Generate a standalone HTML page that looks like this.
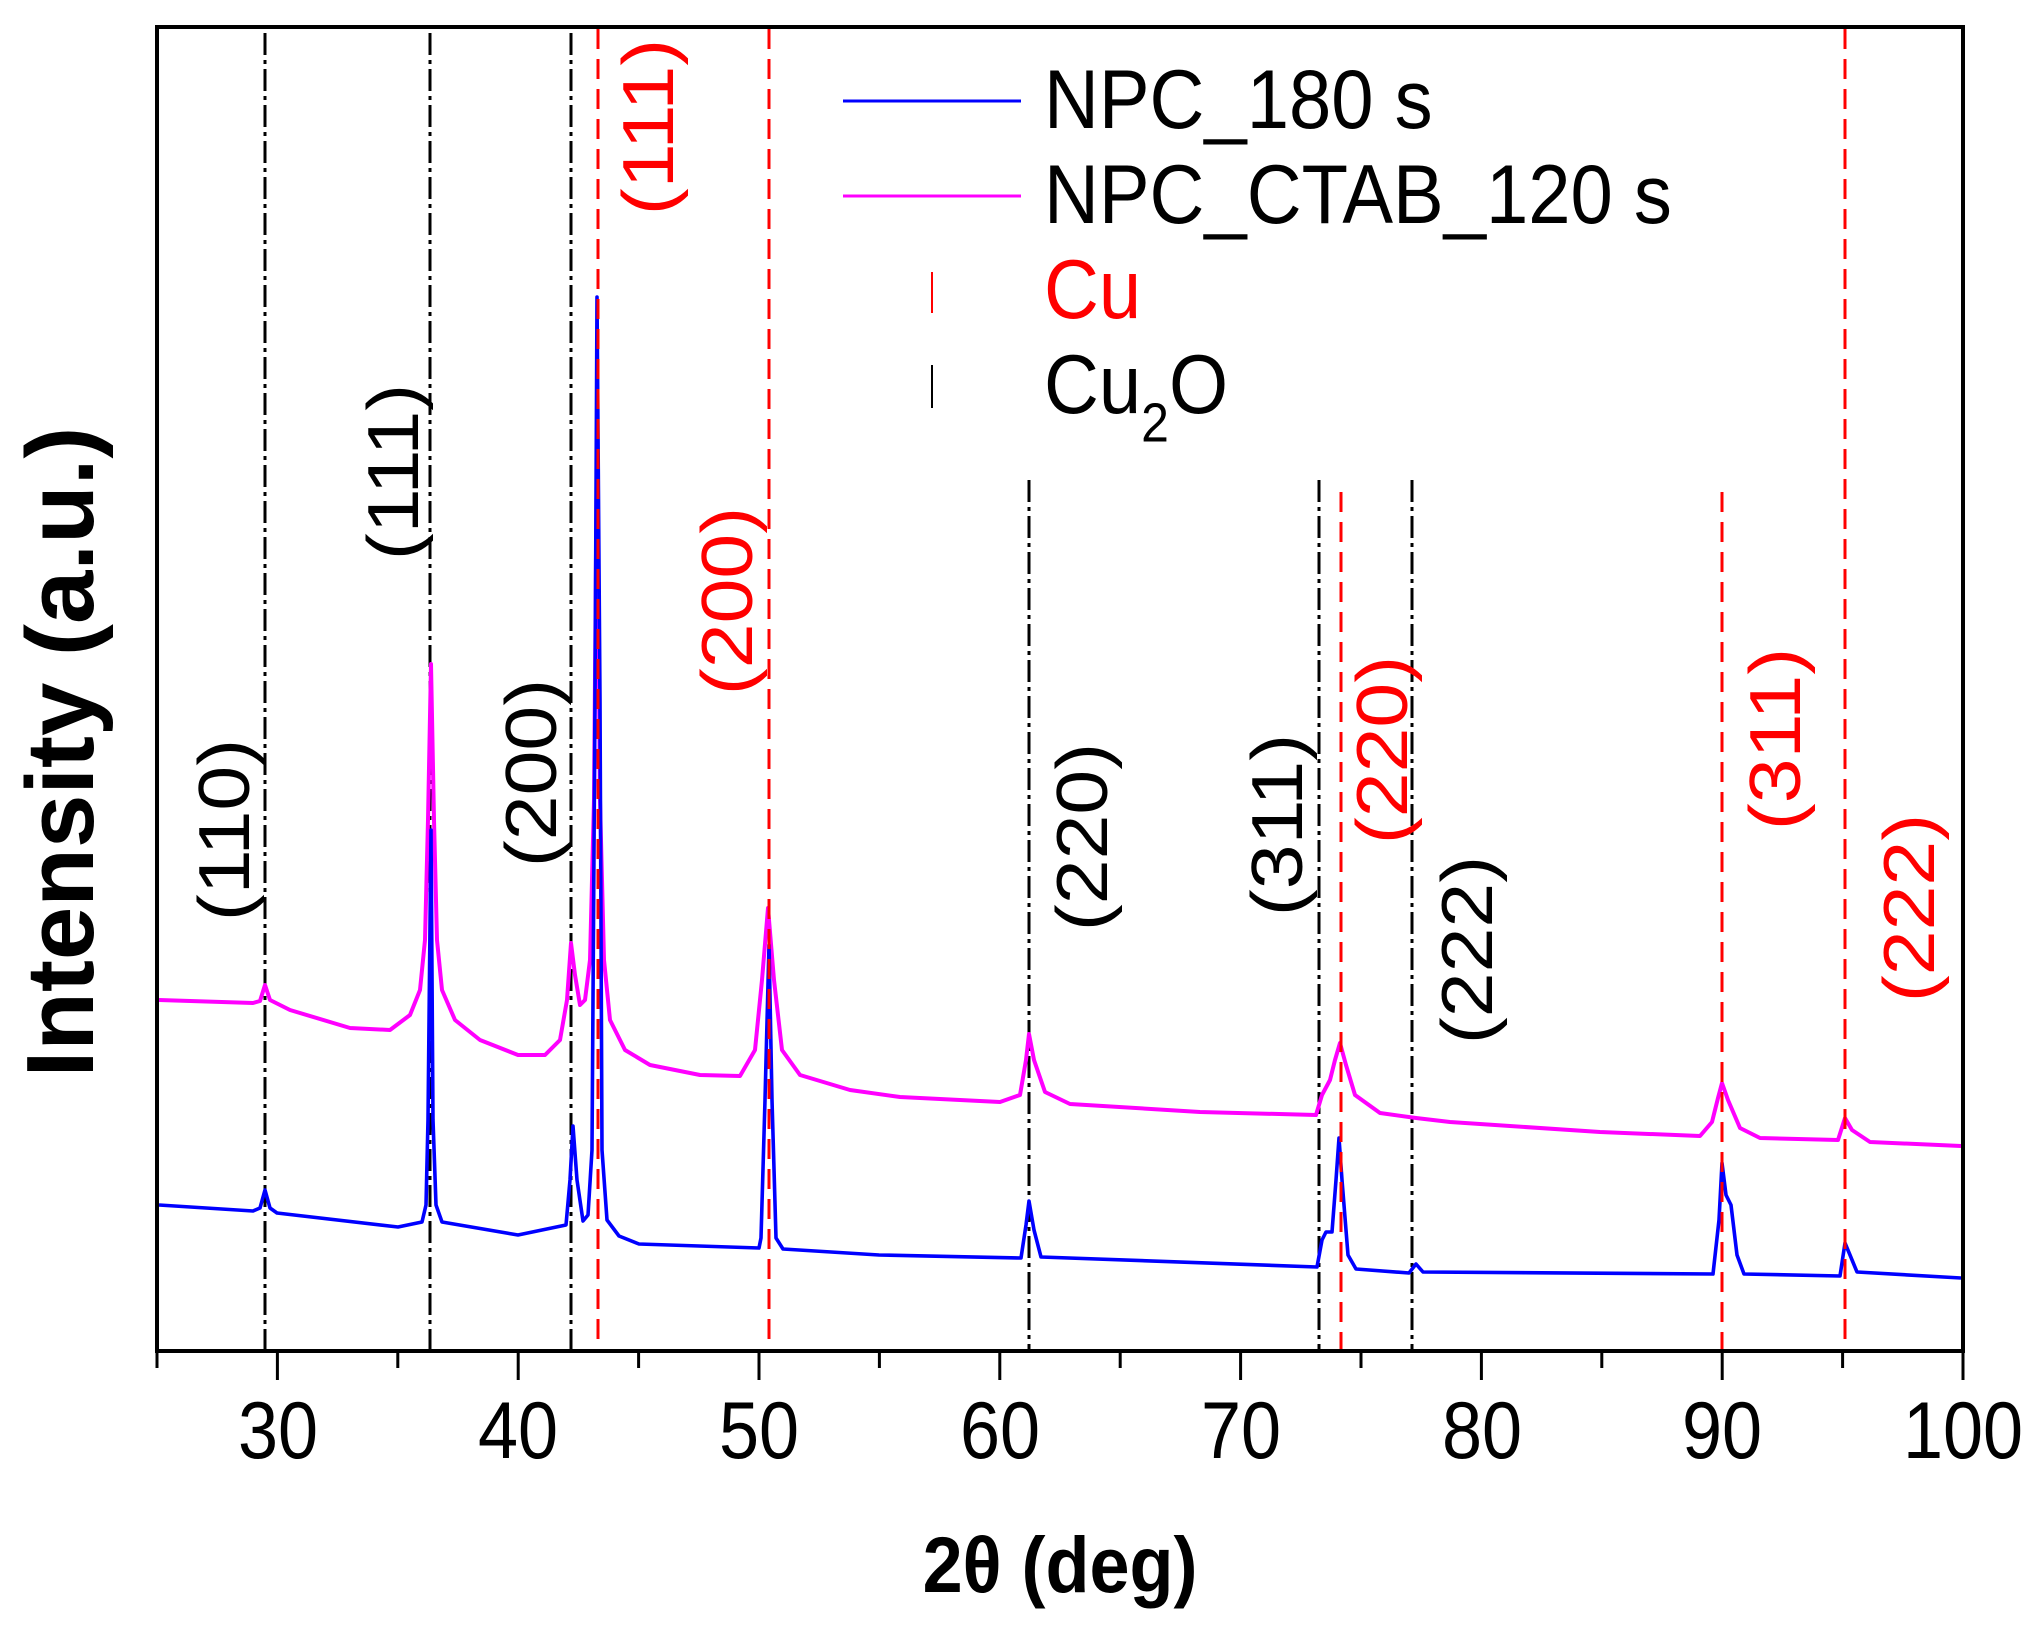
<!DOCTYPE html>
<html><head><meta charset="utf-8"><style>
html,body{margin:0;padding:0;background:#fff;}
svg{display:block;}
text{font-family:"Liberation Sans",Arial,sans-serif;}
</style></head><body>
<svg width="2043" height="1637" viewBox="0 0 2043 1637" xmlns="http://www.w3.org/2000/svg">
<defs><clipPath id="c"><rect x="159" y="29" width="1802" height="1320"/></clipPath></defs>
<g stroke="#000" stroke-width="3" stroke-dasharray="22 5 4 5">
<line x1="265" y1="33" x2="265" y2="1349"/>
<line x1="430" y1="33" x2="430" y2="1349"/>
<line x1="571" y1="33" x2="571" y2="1349"/>
<line x1="1029" y1="480" x2="1029" y2="1349"/>
<line x1="1319" y1="480" x2="1319" y2="1349"/>
<line x1="1412" y1="480" x2="1412" y2="1349"/>
</g>
<g clip-path="url(#c)" fill="none" stroke-linejoin="round">
<polyline stroke="#ff00ff" stroke-width="4" points="159,1000 253,1003 260,1001 265,985 270,1000 290,1010 350,1028 390,1030 410,1015 420,990 425,940 428,820 431,664 434,820 437,940 442,990 455,1020 480,1040 518,1055 545,1055 560,1040 567,1000 571,943 575,975 580,1005 585,1000 590,960 594,800 597,430 600,800 604,960 610,1020 625,1050 650,1065 700,1075 740,1076 755,1050 762,980 768,908 774,980 782,1050 800,1075 850,1090 900,1097 1000,1102 1020,1095 1026,1060 1029,1034 1034,1060 1045,1092 1070,1104 1200,1112 1316,1115 1322,1095 1330,1080 1335,1060 1340,1043 1346,1065 1355,1095 1380,1113 1416,1118 1450,1122 1600,1132 1700,1136 1712,1122 1718,1098 1722,1083 1728,1100 1740,1128 1760,1138 1838,1140 1845,1118 1852,1130 1870,1142 1961,1146"/>
<polyline stroke="#0000ff" stroke-width="3.6" points="159,1205 253,1211 260,1208 265,1190 270,1208 277,1213 398,1227 422,1222 426,1205 428,1120 431,830 433,1120 436,1205 442,1222 518,1235 566,1225 570,1180 573,1126 577,1180 583,1221 588,1215 592,1150 595,700 597,297 600,700 602,1150 607,1220 619,1236 639,1244 759,1248 761,1238 765,1100 769,945 772,1100 776,1238 783,1249 879,1255 1021,1258 1026,1225 1029,1201 1034,1230 1041,1257 1317,1267 1322,1240 1326,1232 1332,1232 1336,1180 1339,1138 1342,1180 1348,1255 1356,1269 1409,1273 1416,1264 1423,1272 1713,1274 1719,1220 1722,1163 1726,1195 1731,1205 1737,1255 1744,1274 1840,1276 1845,1243 1850,1255 1857,1272 1961,1278"/>
</g>
<g stroke="#ff0000" stroke-width="3" stroke-dasharray="20 10">
<line x1="598" y1="29" x2="598" y2="1349"/>
<line x1="769" y1="29" x2="769" y2="1349"/>
<line x1="1341" y1="492" x2="1341" y2="1349"/>
<line x1="1722" y1="492" x2="1722" y2="1349"/>
<line x1="1845" y1="29" x2="1845" y2="1349"/>
</g>
<rect x="157" y="27" width="1806" height="1324" fill="none" stroke="#000" stroke-width="4"/>
<g stroke="#000" stroke-width="3">
<line x1="157" y1="1351" x2="157" y2="1368"/>
<line x1="277.4" y1="1351" x2="277.4" y2="1380"/>
<line x1="397.8" y1="1351" x2="397.8" y2="1368"/>
<line x1="518.2" y1="1351" x2="518.2" y2="1380"/>
<line x1="638.6" y1="1351" x2="638.6" y2="1368"/>
<line x1="759" y1="1351" x2="759" y2="1380"/>
<line x1="879.4" y1="1351" x2="879.4" y2="1368"/>
<line x1="999.8" y1="1351" x2="999.8" y2="1380"/>
<line x1="1120.2" y1="1351" x2="1120.2" y2="1368"/>
<line x1="1240.6" y1="1351" x2="1240.6" y2="1380"/>
<line x1="1361" y1="1351" x2="1361" y2="1368"/>
<line x1="1481.4" y1="1351" x2="1481.4" y2="1380"/>
<line x1="1601.8" y1="1351" x2="1601.8" y2="1368"/>
<line x1="1722.2" y1="1351" x2="1722.2" y2="1380"/>
<line x1="1842.6" y1="1351" x2="1842.6" y2="1368"/>
<line x1="1963" y1="1351" x2="1963" y2="1380"/>
</g>
<g font-size="72" text-anchor="middle" fill="#000">
<text transform="translate(278,1458) scale(1,1.12)">30</text>
<text transform="translate(518,1458) scale(1,1.12)">40</text>
<text transform="translate(759,1458) scale(1,1.12)">50</text>
<text transform="translate(1000,1458) scale(1,1.12)">60</text>
<text transform="translate(1241,1458) scale(1,1.12)">70</text>
<text transform="translate(1482,1458) scale(1,1.12)">80</text>
<text transform="translate(1722,1458) scale(1,1.12)">90</text>
<text transform="translate(1963,1458) scale(1,1.12)">100</text>
</g>
<text transform="translate(1060,1592) scale(1,1.1)" font-size="72" font-weight="bold" text-anchor="middle">2θ (deg)</text>
<text transform="translate(93,752) rotate(-90)" font-size="96" font-weight="bold" text-anchor="middle">Intensity (a.u.)</text>
<line x1="843" y1="101" x2="1021" y2="101" stroke="#0000ff" stroke-width="3"/>
<text transform="translate(1044,128) scale(1,1.1)" font-size="76">NPC_180 s</text>
<line x1="843" y1="196" x2="1021" y2="196" stroke="#ff00ff" stroke-width="3"/>
<text transform="translate(1044,223) scale(1,1.1)" font-size="76">NPC_CTAB_120 s</text>
<line x1="932" y1="272" x2="932" y2="313" stroke="#ff0000" stroke-width="2"/>
<text transform="translate(1044,318) scale(1,1.1)" font-size="76" fill="#ff0000">Cu</text>
<line x1="932" y1="365" x2="932" y2="408" stroke="#000" stroke-width="2"/>
<text transform="translate(1044,413) scale(1,1.1)" font-size="76">Cu<tspan font-size="50" dy="26">2</tspan><tspan dy="-26">O</tspan></text>
<g font-size="72" text-anchor="middle">
<text transform="translate(249,830) scale(1,1.12) rotate(-90)">(110)</text>
<text transform="translate(418,472) scale(1,1.12) rotate(-90)">(111)</text>
<text transform="translate(556,773) scale(1,1.12) rotate(-90)">(200)</text>
<text transform="translate(1107,837) scale(1,1.12) rotate(-90)">(220)</text>
<text transform="translate(1302,825) scale(1,1.12) rotate(-90)">(311)</text>
<text transform="translate(1492,950) scale(1,1.12) rotate(-90)">(222)</text>
<g fill="#ff0000">
<text transform="translate(673,127) scale(1,1.12) rotate(-90)">(111)</text>
<text transform="translate(752,601) scale(1,1.12) rotate(-90)">(200)</text>
<text transform="translate(1407,750) scale(1,1.12) rotate(-90)">(220)</text>
<text transform="translate(1800,739) scale(1,1.12) rotate(-90)">(311)</text>
<text transform="translate(1934,908) scale(1,1.12) rotate(-90)">(222)</text>
</g></g>
</svg>
</body></html>
